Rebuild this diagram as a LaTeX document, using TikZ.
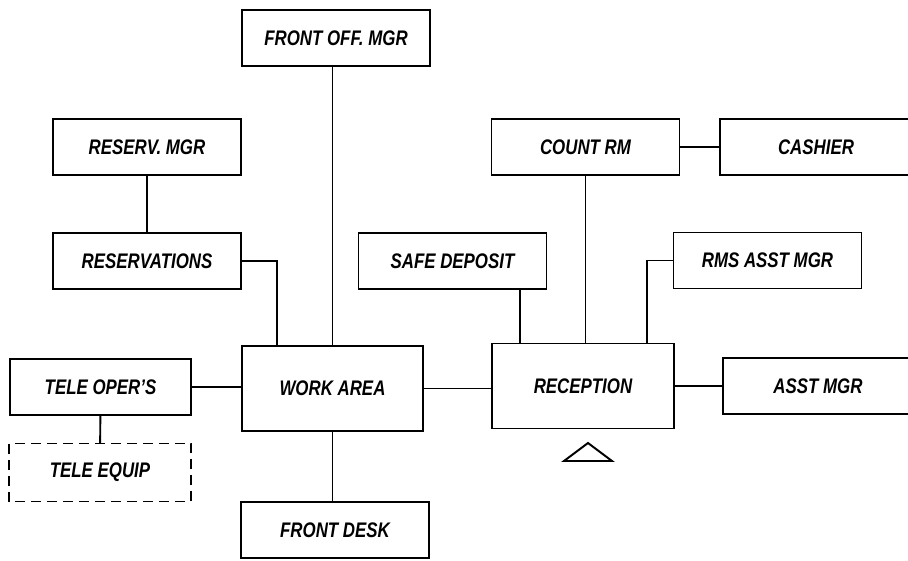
\documentclass[tikz,border=0pt]{standalone}
\usepackage{fontspec}
\setmainfont{Liberation Sans}[FakeStretch=0.8]
\usepackage{tikz}

\begin{document}
\begin{tikzpicture}[inner sep=1mm]
    \tikzstyle{unit}=[rectangle,draw,line width=1.1pt,minimum width=3.76cm,minimum height=1.12cm,font=\fontsize{12}{14}\selectfont\bfseries\itshape]
    \tikzstyle{hub}=[unit,minimum width=3.62cm,minimum height=1.7cm]
    \tikzstyle{link}=[line width=1.1pt]
    \useasboundingbox (0,0) rectangle (18.16,11.2);

    \node[unit] (frontoff) at (6.72,10.44) {FRONT OFF. MGR};
    \node[unit] (reservmgr) at (2.94,8.26) {RESERV. MGR};
    \node[unit] (reservations) at (2.94,5.98) {RESERVATIONS};
    \node[hub] (workarea) at (6.65,3.43) {WORK AREA};
    \node[unit,minimum width=3.62cm] (teleoper) at (2.01,3.46) {TELE OPER'S};
    \node[unit,minimum width=3.6cm,draw=none] (teleequip) at (2.0,1.75) {TELE EQUIP};
    \draw[link,dash pattern=on 0.2cm off 0.12cm] (teleequip.north west) rectangle (teleequip.south east);
    \node[unit] (frontdesk) at (6.7,0.6) {FRONT DESK};

    \node[hub,minimum width=3.64cm] (reception) at (11.66,3.48) {RECEPTION};
    \node[unit] (safedeposit) at (9.05,5.98) {SAFE DEPOSIT};
    \node[unit] (countrm) at (11.71,8.26) {COUNT RM};
    \node[unit,minimum width=3.84cm] (cashier) at (16.32,8.26) {CASHIER};
    \node[unit] (rmsasst) at (15.35,5.99) {RMS ASST MGR};
    \node[unit,minimum width=3.8cm] (asstmgr) at (16.36,3.48) {ASST MGR};

    % bends and drops
    \coordinate (rsv) at (5.54,4.28);
    \coordinate (sdp) at (10.4,0);
    \coordinate (rms) at (12.94,4.33);

    \draw[link] (frontoff.south -| workarea.north) -- (workarea.north);
    \draw[link] (reservmgr) -- (reservations);
    \draw[link] (reservations.east) -| (rsv);
    \draw[link] (teleoper.east) -- (teleoper.east -| workarea.west);
    \draw[link] (teleoper) -- (teleequip);
    \draw[link] (workarea.south) -- (workarea.south |- frontdesk.north);
    \draw[link] (workarea.east) -- (workarea.east -| reception.west);

    \draw[link] (safedeposit.south -| sdp) -- (reception.north -| sdp);
    \draw[link] (countrm.south) -- (countrm.south |- reception.north);
    \draw[link] (countrm.east) -- (countrm.east -| cashier.west);
    \draw[link] (rmsasst.west) -| (rms);
    \draw[link] (reception.east) -- (reception.east -| asstmgr.west);

    \draw[link] (11.28,1.98) -- (11.76,2.34) -- (12.24,1.98) -- cycle;
\end{tikzpicture}
\end{document}
